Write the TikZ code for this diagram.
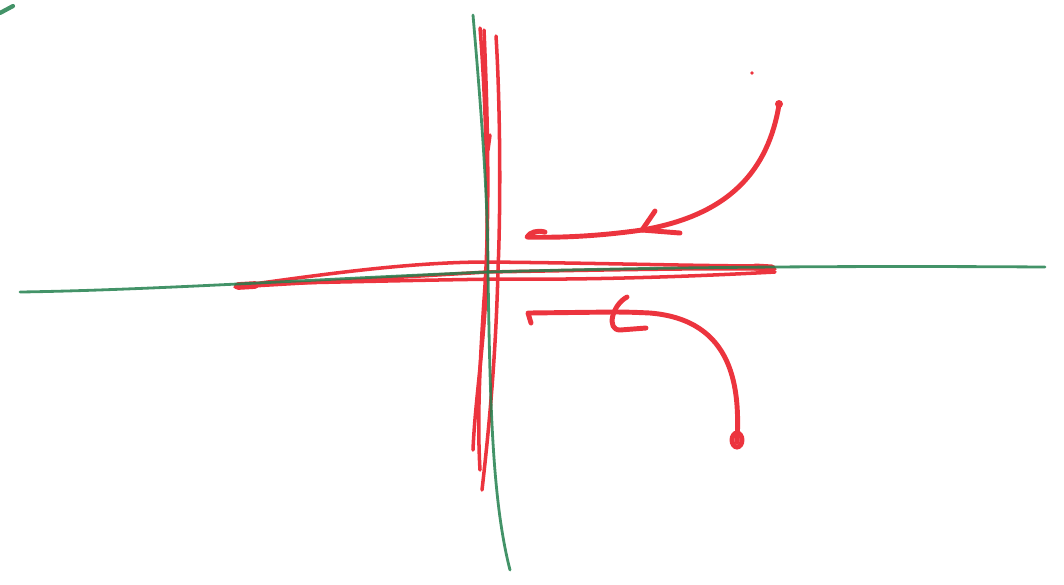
\documentclass[tikz,border=0pt]{standalone}
\usetikzlibrary{}
\definecolor{pen}{RGB}{236,52,62}
\definecolor{marker}{RGB}{34,128,78}
\tikzset{
  redstroke/.style={draw=pen, line width=1.0pt, line cap=round, line join=round},
  redarrow/.style={draw=pen, line width=1.4pt, line cap=round, line join=round},
  greenstroke/.style={draw=marker, line width=0.8pt, line cap=round, opacity=0.85},
}
\begin{document}
\begin{tikzpicture}[x=0.1mm, y=-0.1mm]
\useasboundingbox (0,0) rectangle (1064,584);
% red horizontal strokes
\draw[redstroke] (238,286) .. controls (300,278) and (400,262) .. (487,262) .. controls (600,263) and (700,266) .. (768,266);
\draw[redstroke] (235,287) .. controls (320,282) and (420,276) .. (487,272) .. controls (600,270) and (700,268) .. (775,269);
\draw[redstroke] (240,284) .. controls (300,283) and (420,280) .. (500,279) .. controls (600,280) and (700,276) .. (775,272);
\draw[pen, line width=2.2pt, line cap=round] (238,286) -- (255,285);
\draw[pen, line width=2pt, line cap=round] (755,267) -- (772,268);
% red vertical strokes
\draw[redstroke] (480,28) .. controls (486,100) and (488,200) .. (487,270) .. controls (485,340) and (475,400) .. (473,450);
\draw[redstroke] (496,36) .. controls (500,100) and (501,200) .. (498,270) .. controls (496,350) and (490,420) .. (482,490);
\draw[redstroke] (484,30) .. controls (488,120) and (490,220) .. (484,300) .. controls (480,360) and (477,420) .. (480,470);
\draw[redstroke] (490,135) -- (488,150);
% top arrow
\coordinate (ta) at (779,105);
\coordinate (tb) at (642,230);
\coordinate (tc) at (527,237);
\draw[redarrow] (ta) .. controls (768,170) and (730,215) .. (tb) .. controls (600,236) and (560,238) .. (tc) .. controls (530,232) and (537,230) .. (545,232);
\fill[pen] (779,104) circle (4);
\draw[redarrow] (655,211) -- (tb) -- (680,233);
% bottom arrow
\coordinate (ba) at (737,442);
\coordinate (bb) at (612,312);
\coordinate (bc) at (528,313);
\draw[redarrow] (ba) .. controls (740,390) and (735,320) .. (650,313) .. controls (630,312) and (620,312) .. (bb) -- (bc) -- (531,323);
\draw[pen, line width=1.4pt] (737,440) ellipse (5 and 7);
\draw[redarrow] (627,297) .. controls (612,305) and (606,330) .. (620,330) -- (646,328);
% tiny red dot
\fill[pen] (752,73) circle (1.8);
% green axes
\draw[greenstroke] (20,292) .. controls (150,290) and (300,280) .. (487,272) .. controls (700,266) and (900,266) .. (1045,267);
\draw[greenstroke] (473,15) .. controls (482,120) and (488,200) .. (488,272) .. controls (490,400) and (492,500) .. (510,570);
\draw[greenstroke, line width=1.2pt] (0,13) -- (13,6);
\end{tikzpicture}
\end{document}
